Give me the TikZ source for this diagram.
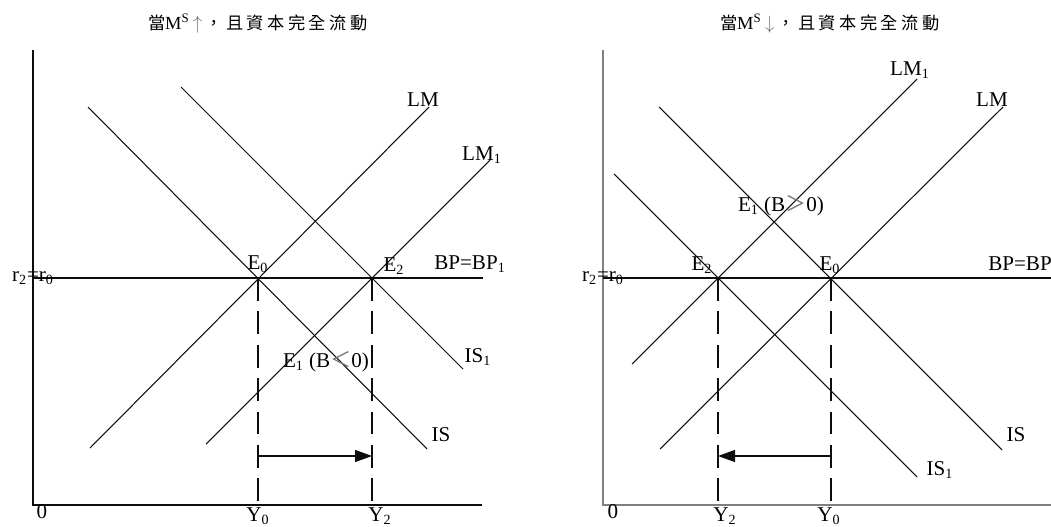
\documentclass[tikz,border=0pt]{standalone}
\usepackage{fontspec}
\setmainfont{Liberation Serif}
\newfontfamily\cjkfont{Noto Sans CJK TC}
\usetikzlibrary{arrows.meta}
\definecolor{IslmInk}{gray}{0.05}
\definecolor{IslmAxis}{gray}{0.50}
\definecolor{IslmArrow}{gray}{0.45}
\newcommand{\cjkspread}[1]{{\cjkfont\fontsize{9.8}{11}\selectfont\addfontfeature{LetterSpace=20}#1}}
\newcommand{\cjkone}[1]{{\cjkfont\fontsize{9.8}{11}\selectfont #1}}
\tikzset{
    islm/diagram/.style={
        x=0.02cm, y=-0.02cm,
        font=\fontsize{12}{14}\selectfont,
        line cap=butt,
        every node/.style={inner sep=0pt, outer sep=0pt}
    },
    islm/curve/.style={draw=IslmInk, line width=0.6pt},
    islm/axis/.style={draw=IslmInk, line width=0.7pt},
    islm/axisgray/.style={draw=IslmAxis, line width=0.8pt},
    islm/guide/.style={draw=IslmInk, line width=0.6pt, dash pattern=on 13pt off 6pt},
    islm/shift/.style={
        draw=IslmInk, line width=0.6pt,
        -{Triangle[length=3.4mm, width=2.4mm]}
    },
    islm/title/.style={anchor=west, font=\fontsize{10.5}{12}\selectfont}
}

\begin{document}
\begin{tikzpicture}[islm/diagram]
    \useasboundingbox (0,0) rectangle (1051,527);

    % Left panel: money supply rises.
    \node[islm/title] (titleA) at (148,24)
        {\cjkone{當}M\textsuperscript{S}\,{\color{IslmArrow}$\uparrow$}\,\cjkspread{，且資本完全流動}};
    \coordinate (oA) at (33,505);
    \coordinate (yA) at (33,50);
    \coordinate (xA) at (482,505);
    \draw[islm/axis] (yA) -- (oA) -- (xA);

    \coordinate (e0A) at (258,278);
    \coordinate (e2A) at (372,278);
    \coordinate (bpAl) at (33,278);
    \coordinate (bpAr) at (483,278);
    \draw[islm/curve] (bpAl) -- (bpAr);

    \coordinate (lmAlo) at (90,448);
    \coordinate (lmAhi) at (429,107);
    \coordinate (lmoneAlo) at (206,444);
    \coordinate (lmoneAhi) at (490,160);
    \coordinate (isAhi) at (88,107);
    \coordinate (isAlo) at (427,449);
    \coordinate (isoneAhi) at (181,87);
    \coordinate (isoneAlo) at (463,369);
    \draw[islm/curve] (lmAlo) -- (lmAhi);
    \draw[islm/curve] (lmoneAlo) -- (lmoneAhi);
    \draw[islm/curve] (isAhi) -- (isAlo);
    \draw[islm/curve] (isoneAhi) -- (isoneAlo);

    \coordinate (y0A) at (258,505);
    \coordinate (y2A) at (372,505);
    \draw[islm/guide] (e0A) -- (y0A);
    \draw[islm/guide] (e2A) -- (y2A);
    \coordinate (shiftAl) at (258,456);
    \coordinate (shiftAr) at (372,456);
    \draw[islm/shift] (shiftAl) -- (shiftAr);

    \node (lmA) at (423,100) {LM};
    \node (lmoneA) at (482,155) {LM\textsubscript{1}};
    \node (e0labA) at (258,264) {E\textsubscript{0}};
    \node (e2labA) at (394,266) {E\textsubscript{2}};
    \node (bplabA) at (470,264) {BP=BP\textsubscript{1}};
    \node (rA) at (33,278) {r\textsubscript{2}=r\textsubscript{0}};
    \node (isoneA) at (478,357) {IS\textsubscript{1}};
    \node (e1A) at (326,362) {E\textsubscript{1} (B{\cjkfont\color{IslmArrow}＜}0)};
    \node (isA) at (441,435) {IS};
    \node (zeroA) at (42,512) {0};
    \node (y0labA) at (258,516) {Y\textsubscript{0}};
    \node (y2labA) at (380,516) {Y\textsubscript{2}};

    % Right panel: money supply falls.
    \node[islm/title] (titleB) at (720,24)
        {\cjkone{當}M\textsuperscript{S}\,{\color{IslmArrow}$\downarrow$}\,\cjkspread{，且資本完全流動}};
    \coordinate (oB) at (603,505);
    \coordinate (yB) at (603,50);
    \coordinate (xB) at (1051,505);
    \draw[islm/axisgray] (yB) -- (oB) -- (xB);

    \coordinate (e2B) at (718,278);
    \coordinate (e0B) at (831,278);
    \coordinate (bpBl) at (603,278);
    \coordinate (bpBr) at (1051,278);
    \draw[islm/curve] (bpBl) -- (bpBr);

    \coordinate (lmoneBlo) at (632,364);
    \coordinate (lmoneBhi) at (917,79);
    \coordinate (lmBlo) at (660,449);
    \coordinate (lmBhi) at (1003,107);
    \coordinate (isBhi) at (659,107);
    \coordinate (isBlo) at (1002,450);
    \coordinate (isoneBhi) at (614,174);
    \coordinate (isoneBlo) at (917,477);
    \draw[islm/curve] (lmoneBlo) -- (lmoneBhi);
    \draw[islm/curve] (lmBlo) -- (lmBhi);
    \draw[islm/curve] (isBhi) -- (isBlo);
    \draw[islm/curve] (isoneBhi) -- (isoneBlo);

    \coordinate (y2B) at (718,505);
    \coordinate (y0B) at (831,505);
    \draw[islm/guide] (e2B) -- (y2B);
    \draw[islm/guide] (e0B) -- (y0B);
    \coordinate (shiftBr) at (831,456);
    \coordinate (shiftBl) at (718,456);
    \draw[islm/shift] (shiftBr) -- (shiftBl);

    \node (lmoneB) at (910,70) {LM\textsubscript{1}};
    \node (lmB) at (992,100) {LM};
    \node (e1B) at (781,206) {E\textsubscript{1} (B{\cjkfont\color{IslmArrow}＞}0)};
    \node (e2labB) at (702,265) {E\textsubscript{2}};
    \node (e0labB) at (830,265) {E\textsubscript{0}};
    \node (bplabB) at (1020,264) {BP=BP};
    \node (rB) at (603,278) {r\textsubscript{2}=r\textsubscript{0}};
    \node (isB) at (1016,435) {IS};
    \node (isoneB) at (940,470) {IS\textsubscript{1}};
    \node (zeroB) at (613,512) {0};
    \node (y2labB) at (725,516) {Y\textsubscript{2}};
    \node (y0labB) at (829,516) {Y\textsubscript{0}};
\end{tikzpicture}
\end{document}
